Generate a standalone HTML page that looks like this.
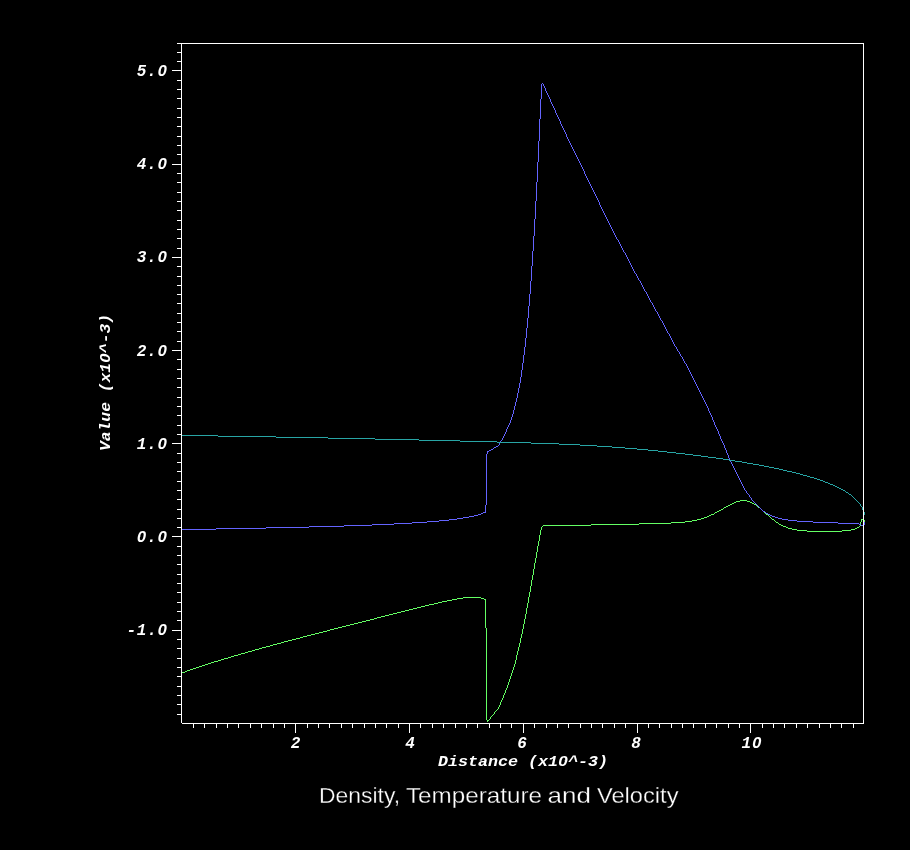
<!DOCTYPE html>
<html><head><meta charset="utf-8"><style>
html,body{margin:0;padding:0;background:#000;width:910px;height:850px;overflow:hidden}
svg{position:absolute;left:0;top:0;display:block;will-change:transform}
text{-webkit-font-smoothing:antialiased}
body{-webkit-font-smoothing:antialiased}
.m{font-family:"Liberation Mono",monospace;font-weight:bold;font-style:italic;font-size:16px;fill:#fff}
.t{font-family:"Liberation Sans",sans-serif;font-size:22px;fill:#fff;stroke:#000;stroke-width:0.3px}
</style></head><body>
<svg width="910" height="850" viewBox="0 0 910 850">
<rect width="910" height="850" fill="#000"/>
<g shape-rendering="crispEdges">
<path fill="#64ff64" d="M740 500h7v1h-7zM736 501h4v1h-4zM747 501h3v1h-3zM734 502h2v1h-2zM750 502h2v1h-2zM732 503h2v1h-2zM752 503h2v1h-2zM730 504h2v1h-2zM754 504h2v1h-2zM728 505h2v1h-2zM756 505h1v1h-1zM726 506h2v1h-2zM757 506h1v1h-1zM724 507h2v1h-2zM758 507h2v1h-2zM723 508h1v1h-1zM760 508h1v1h-1zM721 509h2v1h-2zM761 509h1v1h-1zM719 510h2v1h-2zM762 510h1v1h-1zM717 511h2v1h-2zM763 511h1v1h-1zM715 512h2v1h-2zM764 512h1v1h-1zM714 513h1v1h-1zM765 513h1v1h-1zM711 514h3v1h-3zM766 514h2v1h-2zM709 515h2v1h-2zM768 515h1v1h-1zM707 516h2v1h-2zM769 516h1v1h-1zM704 517h3v1h-3zM770 517h1v1h-1zM701 518h3v1h-3zM771 518h1v1h-1zM697 519h4v1h-4zM772 519h2v1h-2zM861 519h3v1h-3zM692 520h5v1h-5zM774 520h1v1h-1zM861 520h1v1h-1zM863 520h2v1h-2zM685 521h7v1h-7zM775 521h1v1h-1zM861 521h1v1h-1zM863 521h2v1h-2zM671 522h14v1h-14zM776 522h2v1h-2zM860 522h1v1h-1zM639 523h32v1h-32zM778 523h1v1h-1zM860 523h1v1h-1zM591 524h48v1h-48zM779 524h2v1h-2zM860 524h1v1h-1zM543 525h48v1h-48zM781 525h2v1h-2zM860 525h1v1h-1zM542 526h1v1h-1zM783 526h3v1h-3zM859 526h1v1h-1zM541 527h1v1h-1zM786 527h2v1h-2zM857 527h2v1h-2zM541 528h1v1h-1zM788 528h4v1h-4zM855 528h2v1h-2zM541 529h1v1h-1zM792 529h5v1h-5zM851 529h4v1h-4zM540 530h1v1h-1zM797 530h10v1h-10zM842 530h9v1h-9zM540 531h1v1h-1zM807 531h35v1h-35zM540 532h1v1h-1zM540 533h1v1h-1zM540 534h1v1h-1zM539 535h1v1h-1zM539 536h1v1h-1zM539 537h1v1h-1zM539 538h1v1h-1zM539 539h1v1h-1zM539 540h1v1h-1zM538 541h1v1h-1zM538 542h1v1h-1zM538 543h1v1h-1zM538 544h1v1h-1zM538 545h1v1h-1zM537 546h1v1h-1zM537 547h1v1h-1zM537 548h1v1h-1zM537 549h1v1h-1zM537 550h1v1h-1zM537 551h1v1h-1zM536 552h1v1h-1zM536 553h1v1h-1zM536 554h1v1h-1zM536 555h1v1h-1zM536 556h1v1h-1zM536 557h1v1h-1zM535 558h1v1h-1zM535 559h1v1h-1zM535 560h1v1h-1zM535 561h1v1h-1zM535 562h1v1h-1zM534 563h1v1h-1zM534 564h1v1h-1zM534 565h1v1h-1zM534 566h1v1h-1zM534 567h1v1h-1zM534 568h1v1h-1zM533 569h1v1h-1zM533 570h1v1h-1zM533 571h1v1h-1zM533 572h1v1h-1zM533 573h1v1h-1zM533 574h1v1h-1zM532 575h1v1h-1zM532 576h1v1h-1zM532 577h1v1h-1zM532 578h1v1h-1zM532 579h1v1h-1zM531 580h1v1h-1zM531 581h1v1h-1zM531 582h1v1h-1zM531 583h1v1h-1zM531 584h1v1h-1zM531 585h1v1h-1zM530 586h1v1h-1zM530 587h1v1h-1zM530 588h1v1h-1zM530 589h1v1h-1zM530 590h1v1h-1zM530 591h1v1h-1zM529 592h1v1h-1zM529 593h1v1h-1zM529 594h1v1h-1zM529 595h1v1h-1zM529 596h1v1h-1zM463 597h18v1h-18zM528 597h1v1h-1zM457 598h6v1h-6zM481 598h3v1h-3zM528 598h1v1h-1zM452 599h5v1h-5zM484 599h2v1h-2zM528 599h1v1h-1zM447 600h5v1h-5zM485 600h1v1h-1zM528 600h1v1h-1zM442 601h5v1h-5zM485 601h1v1h-1zM528 601h1v1h-1zM438 602h4v1h-4zM485 602h1v1h-1zM528 602h1v1h-1zM434 603h4v1h-4zM485 603h1v1h-1zM527 603h1v1h-1zM429 604h5v1h-5zM485 604h1v1h-1zM527 604h1v1h-1zM425 605h4v1h-4zM485 605h1v1h-1zM527 605h1v1h-1zM421 606h4v1h-4zM485 606h1v1h-1zM527 606h1v1h-1zM417 607h4v1h-4zM485 607h1v1h-1zM527 607h1v1h-1zM413 608h4v1h-4zM485 608h1v1h-1zM526 608h1v1h-1zM409 609h4v1h-4zM485 609h1v1h-1zM526 609h1v1h-1zM405 610h4v1h-4zM485 610h1v1h-1zM526 610h1v1h-1zM401 611h4v1h-4zM485 611h1v1h-1zM526 611h1v1h-1zM397 612h4v1h-4zM485 612h1v1h-1zM526 612h1v1h-1zM393 613h4v1h-4zM485 613h1v1h-1zM526 613h1v1h-1zM389 614h4v1h-4zM485 614h1v1h-1zM525 614h1v1h-1zM385 615h4v1h-4zM485 615h1v1h-1zM525 615h1v1h-1zM381 616h4v1h-4zM485 616h1v1h-1zM525 616h1v1h-1zM377 617h4v1h-4zM485 617h1v1h-1zM525 617h1v1h-1zM374 618h3v1h-3zM485 618h1v1h-1zM525 618h1v1h-1zM370 619h4v1h-4zM485 619h1v1h-1zM524 619h1v1h-1zM366 620h4v1h-4zM485 620h1v1h-1zM524 620h1v1h-1zM362 621h4v1h-4zM485 621h1v1h-1zM524 621h1v1h-1zM358 622h4v1h-4zM485 622h1v1h-1zM524 622h1v1h-1zM354 623h4v1h-4zM485 623h1v1h-1zM524 623h1v1h-1zM350 624h4v1h-4zM485 624h1v1h-1zM523 624h1v1h-1zM346 625h4v1h-4zM485 625h1v1h-1zM523 625h1v1h-1zM342 626h4v1h-4zM485 626h1v1h-1zM523 626h1v1h-1zM338 627h4v1h-4zM485 627h1v1h-1zM523 627h1v1h-1zM334 628h4v1h-4zM486 628h1v1h-1zM523 628h1v1h-1zM330 629h4v1h-4zM486 629h1v1h-1zM522 629h1v1h-1zM327 630h3v1h-3zM486 630h1v1h-1zM522 630h1v1h-1zM323 631h4v1h-4zM486 631h1v1h-1zM522 631h1v1h-1zM319 632h4v1h-4zM486 632h1v1h-1zM522 632h1v1h-1zM315 633h4v1h-4zM486 633h1v1h-1zM522 633h1v1h-1zM311 634h4v1h-4zM486 634h1v1h-1zM521 634h1v1h-1zM307 635h4v1h-4zM486 635h1v1h-1zM521 635h1v1h-1zM303 636h4v1h-4zM486 636h1v1h-1zM521 636h1v1h-1zM300 637h3v1h-3zM486 637h1v1h-1zM521 637h1v1h-1zM296 638h4v1h-4zM486 638h1v1h-1zM520 638h1v1h-1zM292 639h4v1h-4zM486 639h1v1h-1zM520 639h1v1h-1zM288 640h4v1h-4zM486 640h1v1h-1zM520 640h1v1h-1zM284 641h4v1h-4zM486 641h1v1h-1zM520 641h1v1h-1zM281 642h3v1h-3zM486 642h1v1h-1zM520 642h1v1h-1zM277 643h4v1h-4zM486 643h1v1h-1zM519 643h1v1h-1zM273 644h4v1h-4zM486 644h1v1h-1zM519 644h1v1h-1zM270 645h3v1h-3zM486 645h1v1h-1zM519 645h1v1h-1zM266 646h4v1h-4zM486 646h1v1h-1zM519 646h1v1h-1zM262 647h4v1h-4zM486 647h1v1h-1zM518 647h1v1h-1zM259 648h3v1h-3zM486 648h1v1h-1zM518 648h1v1h-1zM255 649h4v1h-4zM486 649h1v1h-1zM518 649h1v1h-1zM252 650h3v1h-3zM486 650h1v1h-1zM518 650h1v1h-1zM248 651h4v1h-4zM486 651h1v1h-1zM517 651h1v1h-1zM245 652h3v1h-3zM486 652h1v1h-1zM517 652h1v1h-1zM241 653h4v1h-4zM486 653h1v1h-1zM517 653h1v1h-1zM238 654h3v1h-3zM486 654h1v1h-1zM517 654h1v1h-1zM234 655h4v1h-4zM486 655h1v1h-1zM516 655h1v1h-1zM231 656h3v1h-3zM486 656h1v1h-1zM516 656h1v1h-1zM228 657h3v1h-3zM486 657h1v1h-1zM516 657h1v1h-1zM224 658h4v1h-4zM486 658h1v1h-1zM516 658h1v1h-1zM221 659h3v1h-3zM486 659h1v1h-1zM516 659h1v1h-1zM218 660h3v1h-3zM486 660h1v1h-1zM515 660h1v1h-1zM214 661h4v1h-4zM486 661h1v1h-1zM515 661h1v1h-1zM211 662h3v1h-3zM486 662h1v1h-1zM515 662h1v1h-1zM208 663h3v1h-3zM486 663h1v1h-1zM515 663h1v1h-1zM205 664h3v1h-3zM486 664h1v1h-1zM514 664h1v1h-1zM202 665h3v1h-3zM486 665h1v1h-1zM514 665h1v1h-1zM199 666h3v1h-3zM486 666h1v1h-1zM514 666h1v1h-1zM196 667h3v1h-3zM486 667h1v1h-1zM513 667h1v1h-1zM193 668h3v1h-3zM486 668h1v1h-1zM513 668h1v1h-1zM190 669h3v1h-3zM486 669h1v1h-1zM513 669h1v1h-1zM187 670h3v1h-3zM486 670h1v1h-1zM512 670h1v1h-1zM185 671h2v1h-2zM486 671h1v1h-1zM512 671h1v1h-1zM182 672h3v1h-3zM486 672h1v1h-1zM512 672h1v1h-1zM486 673h1v1h-1zM511 673h1v1h-1zM486 674h1v1h-1zM511 674h1v1h-1zM486 675h1v1h-1zM511 675h1v1h-1zM486 676h1v1h-1zM510 676h1v1h-1zM486 677h1v1h-1zM510 677h1v1h-1zM486 678h1v1h-1zM510 678h1v1h-1zM486 679h1v1h-1zM509 679h1v1h-1zM486 680h1v1h-1zM509 680h1v1h-1zM486 681h1v1h-1zM509 681h1v1h-1zM486 682h1v1h-1zM508 682h1v1h-1zM486 683h1v1h-1zM508 683h1v1h-1zM486 684h1v1h-1zM508 684h1v1h-1zM486 685h1v1h-1zM507 685h1v1h-1zM486 686h1v1h-1zM507 686h1v1h-1zM486 687h1v1h-1zM507 687h1v1h-1zM486 688h1v1h-1zM506 688h1v1h-1zM486 689h1v1h-1zM506 689h1v1h-1zM486 690h1v1h-1zM505 690h1v1h-1zM486 691h1v1h-1zM505 691h1v1h-1zM486 692h1v1h-1zM505 692h1v1h-1zM486 693h1v1h-1zM504 693h1v1h-1zM486 694h1v1h-1zM504 694h1v1h-1zM486 695h1v1h-1zM503 695h1v1h-1zM486 696h1v1h-1zM503 696h1v1h-1zM486 697h1v1h-1zM503 697h1v1h-1zM486 698h1v1h-1zM502 698h1v1h-1zM486 699h1v1h-1zM502 699h1v1h-1zM486 700h1v1h-1zM501 700h1v1h-1zM486 701h1v1h-1zM501 701h1v1h-1zM486 702h1v1h-1zM500 702h1v1h-1zM486 703h1v1h-1zM500 703h1v1h-1zM486 704h1v1h-1zM500 704h1v1h-1zM486 705h1v1h-1zM499 705h1v1h-1zM486 706h1v1h-1zM499 706h1v1h-1zM486 707h1v1h-1zM498 707h1v1h-1zM486 708h1v1h-1zM498 708h1v1h-1zM486 709h1v1h-1zM497 709h1v1h-1zM486 710h1v1h-1zM496 710h1v1h-1zM486 711h1v1h-1zM495 711h1v1h-1zM486 712h1v1h-1zM494 712h1v1h-1zM486 713h1v1h-1zM494 713h1v1h-1zM486 714h1v1h-1zM493 714h1v1h-1zM486 715h1v1h-1zM492 715h1v1h-1zM486 716h1v1h-1zM491 716h1v1h-1zM486 717h1v1h-1zM490 717h1v1h-1zM486 718h1v1h-1zM490 718h1v1h-1zM486 719h1v1h-1zM489 719h1v1h-1zM487 720h2v1h-2zM487 721h1v1h-1z"/>
<path fill="#6464ff" d="M542 83h1v1h-1zM541 84h1v1h-1zM543 84h1v1h-1zM541 85h1v1h-1zM543 85h1v1h-1zM541 86h1v1h-1zM544 86h1v1h-1zM541 87h1v1h-1zM544 87h1v1h-1zM541 88h1v1h-1zM545 88h1v1h-1zM541 89h1v1h-1zM545 89h1v1h-1zM541 90h1v1h-1zM545 90h1v1h-1zM541 91h1v1h-1zM546 91h1v1h-1zM541 92h1v1h-1zM546 92h1v1h-1zM541 93h1v1h-1zM547 93h1v1h-1zM541 94h1v1h-1zM547 94h1v1h-1zM541 95h1v1h-1zM548 95h1v1h-1zM541 96h1v1h-1zM548 96h1v1h-1zM541 97h1v1h-1zM549 97h1v1h-1zM541 98h1v1h-1zM549 98h1v1h-1zM540 99h1v1h-1zM550 99h1v1h-1zM540 100h1v1h-1zM550 100h1v1h-1zM540 101h1v1h-1zM550 101h1v1h-1zM540 102h1v1h-1zM551 102h1v1h-1zM540 103h1v1h-1zM551 103h1v1h-1zM540 104h1v1h-1zM552 104h1v1h-1zM540 105h1v1h-1zM552 105h1v1h-1zM540 106h1v1h-1zM553 106h1v1h-1zM540 107h1v1h-1zM553 107h1v1h-1zM540 108h1v1h-1zM554 108h1v1h-1zM540 109h1v1h-1zM554 109h1v1h-1zM540 110h1v1h-1zM555 110h1v1h-1zM540 111h1v1h-1zM555 111h1v1h-1zM540 112h1v1h-1zM555 112h1v1h-1zM540 113h1v1h-1zM556 113h1v1h-1zM540 114h1v1h-1zM556 114h1v1h-1zM540 115h1v1h-1zM557 115h1v1h-1zM540 116h1v1h-1zM557 116h1v1h-1zM540 117h1v1h-1zM558 117h1v1h-1zM540 118h1v1h-1zM558 118h1v1h-1zM539 119h1v1h-1zM559 119h1v1h-1zM539 120h1v1h-1zM559 120h1v1h-1zM539 121h1v1h-1zM560 121h1v1h-1zM539 122h1v1h-1zM560 122h1v1h-1zM539 123h1v1h-1zM560 123h1v1h-1zM539 124h1v1h-1zM561 124h1v1h-1zM539 125h1v1h-1zM561 125h1v1h-1zM539 126h1v1h-1zM562 126h1v1h-1zM539 127h1v1h-1zM562 127h1v1h-1zM539 128h1v1h-1zM563 128h1v1h-1zM539 129h1v1h-1zM563 129h1v1h-1zM539 130h1v1h-1zM564 130h1v1h-1zM539 131h1v1h-1zM564 131h1v1h-1zM539 132h1v1h-1zM565 132h1v1h-1zM539 133h1v1h-1zM565 133h1v1h-1zM539 134h1v1h-1zM566 134h1v1h-1zM539 135h1v1h-1zM566 135h1v1h-1zM539 136h1v1h-1zM566 136h1v1h-1zM539 137h1v1h-1zM567 137h1v1h-1zM539 138h1v1h-1zM567 138h1v1h-1zM539 139h1v1h-1zM568 139h1v1h-1zM539 140h1v1h-1zM568 140h1v1h-1zM538 141h1v1h-1zM569 141h1v1h-1zM538 142h1v1h-1zM569 142h1v1h-1zM538 143h1v1h-1zM570 143h1v1h-1zM538 144h1v1h-1zM570 144h1v1h-1zM538 145h1v1h-1zM571 145h1v1h-1zM538 146h1v1h-1zM571 146h1v1h-1zM538 147h1v1h-1zM572 147h1v1h-1zM538 148h1v1h-1zM572 148h1v1h-1zM538 149h1v1h-1zM573 149h1v1h-1zM538 150h1v1h-1zM573 150h1v1h-1zM538 151h1v1h-1zM574 151h1v1h-1zM538 152h1v1h-1zM574 152h1v1h-1zM538 153h1v1h-1zM575 153h1v1h-1zM538 154h1v1h-1zM575 154h1v1h-1zM538 155h1v1h-1zM576 155h1v1h-1zM538 156h1v1h-1zM576 156h1v1h-1zM538 157h1v1h-1zM577 157h1v1h-1zM538 158h1v1h-1zM577 158h1v1h-1zM538 159h1v1h-1zM578 159h1v1h-1zM538 160h1v1h-1zM578 160h1v1h-1zM538 161h1v1h-1zM579 161h1v1h-1zM537 162h1v1h-1zM579 162h1v1h-1zM537 163h1v1h-1zM580 163h1v1h-1zM537 164h1v1h-1zM580 164h1v1h-1zM537 165h1v1h-1zM581 165h1v1h-1zM537 166h1v1h-1zM581 166h1v1h-1zM537 167h1v1h-1zM582 167h1v1h-1zM537 168h1v1h-1zM582 168h1v1h-1zM537 169h1v1h-1zM583 169h1v1h-1zM537 170h1v1h-1zM583 170h1v1h-1zM537 171h1v1h-1zM584 171h1v1h-1zM537 172h1v1h-1zM584 172h1v1h-1zM537 173h1v1h-1zM584 173h1v1h-1zM537 174h1v1h-1zM585 174h1v1h-1zM537 175h1v1h-1zM585 175h1v1h-1zM537 176h1v1h-1zM586 176h1v1h-1zM537 177h1v1h-1zM586 177h1v1h-1zM537 178h1v1h-1zM587 178h1v1h-1zM537 179h1v1h-1zM587 179h1v1h-1zM537 180h1v1h-1zM588 180h1v1h-1zM537 181h1v1h-1zM588 181h1v1h-1zM536 182h1v1h-1zM589 182h1v1h-1zM536 183h1v1h-1zM589 183h1v1h-1zM536 184h1v1h-1zM590 184h1v1h-1zM536 185h1v1h-1zM590 185h1v1h-1zM536 186h1v1h-1zM591 186h1v1h-1zM536 187h1v1h-1zM591 187h1v1h-1zM536 188h1v1h-1zM592 188h1v1h-1zM536 189h1v1h-1zM592 189h1v1h-1zM536 190h1v1h-1zM593 190h1v1h-1zM536 191h1v1h-1zM593 191h1v1h-1zM536 192h1v1h-1zM594 192h1v1h-1zM536 193h1v1h-1zM594 193h1v1h-1zM536 194h1v1h-1zM595 194h1v1h-1zM536 195h1v1h-1zM595 195h1v1h-1zM536 196h1v1h-1zM596 196h1v1h-1zM536 197h1v1h-1zM596 197h1v1h-1zM536 198h1v1h-1zM597 198h1v1h-1zM536 199h1v1h-1zM597 199h1v1h-1zM536 200h1v1h-1zM598 200h1v1h-1zM535 201h1v1h-1zM598 201h1v1h-1zM535 202h1v1h-1zM599 202h1v1h-1zM535 203h1v1h-1zM599 203h1v1h-1zM535 204h1v1h-1zM599 204h1v1h-1zM535 205h1v1h-1zM600 205h1v1h-1zM535 206h1v1h-1zM600 206h1v1h-1zM535 207h1v1h-1zM601 207h1v1h-1zM535 208h1v1h-1zM601 208h1v1h-1zM535 209h1v1h-1zM602 209h1v1h-1zM535 210h1v1h-1zM602 210h1v1h-1zM535 211h1v1h-1zM603 211h1v1h-1zM535 212h1v1h-1zM603 212h1v1h-1zM535 213h1v1h-1zM604 213h1v1h-1zM535 214h1v1h-1zM604 214h1v1h-1zM535 215h1v1h-1zM605 215h1v1h-1zM535 216h1v1h-1zM605 216h1v1h-1zM535 217h1v1h-1zM606 217h1v1h-1zM535 218h1v1h-1zM606 218h1v1h-1zM534 219h1v1h-1zM607 219h1v1h-1zM534 220h1v1h-1zM607 220h1v1h-1zM534 221h1v1h-1zM608 221h1v1h-1zM534 222h1v1h-1zM608 222h1v1h-1zM534 223h1v1h-1zM609 223h1v1h-1zM534 224h1v1h-1zM609 224h1v1h-1zM534 225h1v1h-1zM610 225h1v1h-1zM534 226h1v1h-1zM610 226h1v1h-1zM534 227h1v1h-1zM611 227h1v1h-1zM534 228h1v1h-1zM611 228h1v1h-1zM534 229h1v1h-1zM612 229h1v1h-1zM534 230h1v1h-1zM612 230h1v1h-1zM534 231h1v1h-1zM613 231h1v1h-1zM534 232h1v1h-1zM613 232h1v1h-1zM534 233h1v1h-1zM614 233h1v1h-1zM534 234h1v1h-1zM614 234h1v1h-1zM534 235h1v1h-1zM615 235h1v1h-1zM533 236h1v1h-1zM615 236h1v1h-1zM533 237h1v1h-1zM616 237h1v1h-1zM533 238h1v1h-1zM616 238h1v1h-1zM533 239h1v1h-1zM617 239h1v1h-1zM533 240h1v1h-1zM618 240h1v1h-1zM533 241h1v1h-1zM618 241h1v1h-1zM533 242h1v1h-1zM619 242h1v1h-1zM533 243h1v1h-1zM619 243h1v1h-1zM533 244h1v1h-1zM620 244h1v1h-1zM533 245h1v1h-1zM620 245h1v1h-1zM533 246h1v1h-1zM621 246h1v1h-1zM533 247h1v1h-1zM621 247h1v1h-1zM533 248h1v1h-1zM622 248h1v1h-1zM533 249h1v1h-1zM622 249h1v1h-1zM533 250h1v1h-1zM623 250h1v1h-1zM532 251h1v1h-1zM623 251h1v1h-1zM532 252h1v1h-1zM624 252h1v1h-1zM532 253h1v1h-1zM625 253h1v1h-1zM532 254h1v1h-1zM625 254h1v1h-1zM532 255h1v1h-1zM626 255h1v1h-1zM532 256h1v1h-1zM626 256h1v1h-1zM532 257h1v1h-1zM627 257h1v1h-1zM532 258h1v1h-1zM627 258h1v1h-1zM532 259h1v1h-1zM628 259h1v1h-1zM532 260h1v1h-1zM628 260h1v1h-1zM532 261h1v1h-1zM629 261h1v1h-1zM532 262h1v1h-1zM629 262h1v1h-1zM532 263h1v1h-1zM630 263h1v1h-1zM532 264h1v1h-1zM630 264h1v1h-1zM532 265h1v1h-1zM631 265h1v1h-1zM531 266h1v1h-1zM631 266h1v1h-1zM531 267h1v1h-1zM632 267h1v1h-1zM531 268h1v1h-1zM632 268h1v1h-1zM531 269h1v1h-1zM633 269h1v1h-1zM531 270h1v1h-1zM633 270h1v1h-1zM531 271h1v1h-1zM634 271h1v1h-1zM531 272h1v1h-1zM634 272h1v1h-1zM531 273h1v1h-1zM635 273h1v1h-1zM531 274h1v1h-1zM636 274h1v1h-1zM531 275h1v1h-1zM636 275h1v1h-1zM531 276h1v1h-1zM637 276h1v1h-1zM531 277h1v1h-1zM637 277h1v1h-1zM531 278h1v1h-1zM638 278h1v1h-1zM531 279h1v1h-1zM638 279h1v1h-1zM531 280h1v1h-1zM639 280h1v1h-1zM530 281h1v1h-1zM640 281h1v1h-1zM530 282h1v1h-1zM640 282h1v1h-1zM530 283h1v1h-1zM641 283h1v1h-1zM530 284h1v1h-1zM641 284h1v1h-1zM530 285h1v1h-1zM642 285h1v1h-1zM530 286h1v1h-1zM642 286h1v1h-1zM530 287h1v1h-1zM643 287h1v1h-1zM530 288h1v1h-1zM643 288h1v1h-1zM530 289h1v1h-1zM644 289h1v1h-1zM530 290h1v1h-1zM644 290h1v1h-1zM530 291h1v1h-1zM645 291h1v1h-1zM530 292h1v1h-1zM646 292h1v1h-1zM530 293h1v1h-1zM646 293h1v1h-1zM529 294h1v1h-1zM647 294h1v1h-1zM529 295h1v1h-1zM647 295h1v1h-1zM529 296h1v1h-1zM648 296h1v1h-1zM529 297h1v1h-1zM648 297h1v1h-1zM529 298h1v1h-1zM649 298h1v1h-1zM529 299h1v1h-1zM649 299h1v1h-1zM529 300h1v1h-1zM650 300h1v1h-1zM529 301h1v1h-1zM650 301h1v1h-1zM529 302h1v1h-1zM651 302h1v1h-1zM529 303h1v1h-1zM652 303h1v1h-1zM529 304h1v1h-1zM652 304h1v1h-1zM529 305h1v1h-1zM653 305h1v1h-1zM528 306h1v1h-1zM653 306h1v1h-1zM528 307h1v1h-1zM654 307h1v1h-1zM528 308h1v1h-1zM654 308h1v1h-1zM528 309h1v1h-1zM655 309h1v1h-1zM528 310h1v1h-1zM655 310h1v1h-1zM528 311h1v1h-1zM656 311h1v1h-1zM528 312h1v1h-1zM657 312h1v1h-1zM528 313h1v1h-1zM657 313h1v1h-1zM528 314h1v1h-1zM658 314h1v1h-1zM528 315h1v1h-1zM658 315h1v1h-1zM528 316h1v1h-1zM659 316h1v1h-1zM528 317h1v1h-1zM659 317h1v1h-1zM527 318h1v1h-1zM660 318h1v1h-1zM527 319h1v1h-1zM660 319h1v1h-1zM527 320h1v1h-1zM661 320h1v1h-1zM527 321h1v1h-1zM662 321h1v1h-1zM527 322h1v1h-1zM662 322h1v1h-1zM527 323h1v1h-1zM663 323h1v1h-1zM527 324h1v1h-1zM663 324h1v1h-1zM527 325h1v1h-1zM664 325h1v1h-1zM527 326h1v1h-1zM664 326h1v1h-1zM527 327h1v1h-1zM665 327h1v1h-1zM526 328h1v1h-1zM665 328h1v1h-1zM526 329h1v1h-1zM666 329h1v1h-1zM526 330h1v1h-1zM666 330h1v1h-1zM526 331h1v1h-1zM667 331h1v1h-1zM526 332h1v1h-1zM667 332h1v1h-1zM526 333h1v1h-1zM668 333h1v1h-1zM526 334h1v1h-1zM669 334h1v1h-1zM526 335h1v1h-1zM669 335h1v1h-1zM526 336h1v1h-1zM670 336h1v1h-1zM526 337h1v1h-1zM670 337h1v1h-1zM525 338h1v1h-1zM671 338h1v1h-1zM525 339h1v1h-1zM671 339h1v1h-1zM525 340h1v1h-1zM672 340h1v1h-1zM525 341h1v1h-1zM672 341h1v1h-1zM525 342h1v1h-1zM673 342h1v1h-1zM525 343h1v1h-1zM673 343h1v1h-1zM525 344h1v1h-1zM674 344h1v1h-1zM525 345h1v1h-1zM674 345h1v1h-1zM525 346h1v1h-1zM675 346h1v1h-1zM524 347h1v1h-1zM676 347h1v1h-1zM524 348h1v1h-1zM676 348h1v1h-1zM524 349h1v1h-1zM677 349h1v1h-1zM524 350h1v1h-1zM677 350h1v1h-1zM524 351h1v1h-1zM678 351h1v1h-1zM524 352h1v1h-1zM679 352h1v1h-1zM524 353h1v1h-1zM679 353h1v1h-1zM524 354h1v1h-1zM680 354h1v1h-1zM523 355h1v1h-1zM680 355h1v1h-1zM523 356h1v1h-1zM681 356h1v1h-1zM523 357h1v1h-1zM682 357h1v1h-1zM523 358h1v1h-1zM682 358h1v1h-1zM523 359h1v1h-1zM683 359h1v1h-1zM523 360h1v1h-1zM683 360h1v1h-1zM523 361h1v1h-1zM684 361h1v1h-1zM523 362h1v1h-1zM684 362h1v1h-1zM522 363h1v1h-1zM685 363h1v1h-1zM522 364h1v1h-1zM686 364h1v1h-1zM522 365h1v1h-1zM686 365h1v1h-1zM522 366h1v1h-1zM687 366h1v1h-1zM522 367h1v1h-1zM687 367h1v1h-1zM522 368h1v1h-1zM688 368h1v1h-1zM522 369h1v1h-1zM688 369h1v1h-1zM521 370h1v1h-1zM689 370h1v1h-1zM521 371h1v1h-1zM689 371h1v1h-1zM521 372h1v1h-1zM690 372h1v1h-1zM521 373h1v1h-1zM690 373h1v1h-1zM521 374h1v1h-1zM691 374h1v1h-1zM521 375h1v1h-1zM691 375h1v1h-1zM521 376h1v1h-1zM692 376h1v1h-1zM520 377h1v1h-1zM692 377h1v1h-1zM520 378h1v1h-1zM693 378h1v1h-1zM520 379h1v1h-1zM693 379h1v1h-1zM520 380h1v1h-1zM694 380h1v1h-1zM520 381h1v1h-1zM694 381h1v1h-1zM520 382h1v1h-1zM695 382h1v1h-1zM519 383h1v1h-1zM695 383h1v1h-1zM519 384h1v1h-1zM696 384h1v1h-1zM519 385h1v1h-1zM696 385h1v1h-1zM519 386h1v1h-1zM697 386h1v1h-1zM519 387h1v1h-1zM697 387h1v1h-1zM518 388h1v1h-1zM698 388h1v1h-1zM518 389h1v1h-1zM698 389h1v1h-1zM518 390h1v1h-1zM699 390h1v1h-1zM518 391h1v1h-1zM699 391h1v1h-1zM518 392h1v1h-1zM700 392h1v1h-1zM517 393h1v1h-1zM700 393h1v1h-1zM517 394h1v1h-1zM701 394h1v1h-1zM517 395h1v1h-1zM701 395h1v1h-1zM517 396h1v1h-1zM702 396h1v1h-1zM517 397h1v1h-1zM702 397h1v1h-1zM516 398h1v1h-1zM703 398h1v1h-1zM516 399h1v1h-1zM703 399h1v1h-1zM516 400h1v1h-1zM704 400h1v1h-1zM516 401h1v1h-1zM704 401h1v1h-1zM515 402h1v1h-1zM705 402h1v1h-1zM515 403h1v1h-1zM705 403h1v1h-1zM515 404h1v1h-1zM706 404h1v1h-1zM515 405h1v1h-1zM706 405h1v1h-1zM514 406h1v1h-1zM707 406h1v1h-1zM514 407h1v1h-1zM707 407h1v1h-1zM514 408h1v1h-1zM708 408h1v1h-1zM514 409h1v1h-1zM708 409h1v1h-1zM513 410h1v1h-1zM708 410h1v1h-1zM513 411h1v1h-1zM709 411h1v1h-1zM513 412h1v1h-1zM709 412h1v1h-1zM513 413h1v1h-1zM710 413h1v1h-1zM512 414h1v1h-1zM710 414h1v1h-1zM512 415h1v1h-1zM711 415h1v1h-1zM512 416h1v1h-1zM711 416h1v1h-1zM511 417h1v1h-1zM712 417h1v1h-1zM511 418h1v1h-1zM712 418h1v1h-1zM511 419h1v1h-1zM712 419h1v1h-1zM510 420h1v1h-1zM713 420h1v1h-1zM510 421h1v1h-1zM713 421h1v1h-1zM510 422h1v1h-1zM714 422h1v1h-1zM509 423h1v1h-1zM714 423h1v1h-1zM509 424h1v1h-1zM714 424h1v1h-1zM508 425h1v1h-1zM715 425h1v1h-1zM508 426h1v1h-1zM715 426h1v1h-1zM507 427h1v1h-1zM716 427h1v1h-1zM507 428h1v1h-1zM716 428h1v1h-1zM506 429h1v1h-1zM717 429h1v1h-1zM506 430h1v1h-1zM717 430h1v1h-1zM506 431h1v1h-1zM718 431h1v1h-1zM505 432h1v1h-1zM718 432h1v1h-1zM505 433h1v1h-1zM718 433h1v1h-1zM504 434h1v1h-1zM719 434h1v1h-1zM504 435h1v1h-1zM719 435h1v1h-1zM503 436h1v1h-1zM720 436h1v1h-1zM503 437h1v1h-1zM720 437h1v1h-1zM502 438h1v1h-1zM720 438h1v1h-1zM502 439h1v1h-1zM721 439h1v1h-1zM501 440h1v1h-1zM721 440h1v1h-1zM500 441h1v1h-1zM722 441h1v1h-1zM500 442h1v1h-1zM722 442h1v1h-1zM499 443h1v1h-1zM723 443h1v1h-1zM499 444h1v1h-1zM723 444h1v1h-1zM498 445h1v1h-1zM724 445h1v1h-1zM496 446h2v1h-2zM724 446h1v1h-1zM494 447h2v1h-2zM724 447h1v1h-1zM493 448h1v1h-1zM725 448h1v1h-1zM491 449h2v1h-2zM725 449h1v1h-1zM489 450h2v1h-2zM726 450h1v1h-1zM487 451h2v1h-2zM726 451h1v1h-1zM487 452h1v1h-1zM726 452h1v1h-1zM487 453h1v1h-1zM727 453h1v1h-1zM486 454h1v1h-1zM727 454h1v1h-1zM486 455h1v1h-1zM728 455h1v1h-1zM486 456h1v1h-1zM728 456h1v1h-1zM486 457h1v1h-1zM728 457h1v1h-1zM486 458h1v1h-1zM729 458h1v1h-1zM486 459h1v1h-1zM729 459h1v1h-1zM486 460h1v1h-1zM730 460h1v1h-1zM486 461h1v1h-1zM730 461h1v1h-1zM486 462h1v1h-1zM731 462h1v1h-1zM486 463h1v1h-1zM731 463h1v1h-1zM486 464h1v1h-1zM732 464h1v1h-1zM486 465h1v1h-1zM732 465h1v1h-1zM486 466h1v1h-1zM733 466h1v1h-1zM486 467h1v1h-1zM733 467h1v1h-1zM486 468h1v1h-1zM734 468h1v1h-1zM486 469h1v1h-1zM734 469h1v1h-1zM486 470h1v1h-1zM735 470h1v1h-1zM486 471h1v1h-1zM735 471h1v1h-1zM486 472h1v1h-1zM736 472h1v1h-1zM486 473h1v1h-1zM736 473h1v1h-1zM486 474h1v1h-1zM737 474h1v1h-1zM486 475h1v1h-1zM737 475h1v1h-1zM486 476h1v1h-1zM738 476h1v1h-1zM486 477h1v1h-1zM738 477h1v1h-1zM486 478h1v1h-1zM739 478h1v1h-1zM486 479h1v1h-1zM739 479h1v1h-1zM486 480h1v1h-1zM740 480h1v1h-1zM486 481h1v1h-1zM740 481h1v1h-1zM486 482h1v1h-1zM741 482h1v1h-1zM486 483h1v1h-1zM741 483h1v1h-1zM486 484h1v1h-1zM742 484h1v1h-1zM486 485h1v1h-1zM742 485h1v1h-1zM486 486h1v1h-1zM743 486h1v1h-1zM486 487h1v1h-1zM743 487h1v1h-1zM486 488h1v1h-1zM744 488h1v1h-1zM486 489h1v1h-1zM744 489h1v1h-1zM486 490h1v1h-1zM745 490h1v1h-1zM486 491h1v1h-1zM746 491h1v1h-1zM486 492h1v1h-1zM746 492h1v1h-1zM486 493h1v1h-1zM747 493h1v1h-1zM486 494h1v1h-1zM748 494h1v1h-1zM486 495h1v1h-1zM749 495h1v1h-1zM486 496h1v1h-1zM749 496h1v1h-1zM486 497h1v1h-1zM750 497h1v1h-1zM486 498h1v1h-1zM751 498h1v1h-1zM486 499h1v1h-1zM751 499h1v1h-1zM486 500h1v1h-1zM752 500h1v1h-1zM486 501h1v1h-1zM753 501h1v1h-1zM486 502h1v1h-1zM754 502h1v1h-1zM486 503h1v1h-1zM755 503h1v1h-1zM486 504h1v1h-1zM756 504h1v1h-1zM485 505h1v1h-1zM757 505h1v1h-1zM485 506h1v1h-1zM758 506h1v1h-1zM485 507h1v1h-1zM759 507h1v1h-1zM485 508h1v1h-1zM760 508h1v1h-1zM485 509h1v1h-1zM761 509h1v1h-1zM485 510h1v1h-1zM762 510h1v1h-1zM485 511h1v1h-1zM763 511h2v1h-2zM483 512h3v1h-3zM765 512h1v1h-1zM481 513h2v1h-2zM766 513h2v1h-2zM478 514h3v1h-3zM768 514h2v1h-2zM474 515h4v1h-4zM770 515h2v1h-2zM469 516h5v1h-5zM772 516h3v1h-3zM463 517h6v1h-6zM775 517h3v1h-3zM457 518h6v1h-6zM778 518h4v1h-4zM449 519h8v1h-8zM782 519h6v1h-6zM439 520h10v1h-10zM788 520h9v1h-9zM427 521h12v1h-12zM797 521h16v1h-16zM412 522h15v1h-15zM813 522h25v1h-25zM863 522h2v1h-2zM394 523h18v1h-18zM838 523h21v1h-21zM863 523h2v1h-2zM372 524h22v1h-22zM859 524h2v1h-2zM863 524h2v1h-2zM344 525h28v1h-28zM861 525h3v1h-3zM309 526h35v1h-35zM266 527h43v1h-43zM216 528h50v1h-50zM182 529h34v1h-34z"/>
<path fill="#28a5a5" d="M182 435h36v1h-36zM218 436h58v1h-58zM276 437h52v1h-52zM328 438h47v1h-47zM375 439h44v1h-44zM419 440h41v1h-41zM460 441h37v1h-37zM497 442h34v1h-34zM531 443h28v1h-28zM559 444h21v1h-21zM580 445h17v1h-17zM597 446h15v1h-15zM612 447h13v1h-13zM625 448h12v1h-12zM637 449h11v1h-11zM648 450h10v1h-10zM658 451h9v1h-9zM667 452h9v1h-9zM676 453h9v1h-9zM685 454h8v1h-8zM693 455h8v1h-8zM701 456h7v1h-7zM708 457h8v1h-8zM716 458h7v1h-7zM723 459h6v1h-6zM729 460h6v1h-6zM735 461h7v1h-7zM742 462h5v1h-5zM747 463h6v1h-6zM753 464h6v1h-6zM759 465h5v1h-5zM764 466h5v1h-5zM769 467h5v1h-5zM774 468h5v1h-5zM779 469h4v1h-4zM783 470h4v1h-4zM787 471h5v1h-5zM792 472h4v1h-4zM796 473h4v1h-4zM800 474h3v1h-3zM803 475h4v1h-4zM807 476h3v1h-3zM810 477h4v1h-4zM814 478h3v1h-3zM817 479h3v1h-3zM820 480h3v1h-3zM823 481h2v1h-2zM825 482h3v1h-3zM828 483h2v1h-2zM830 484h3v1h-3zM833 485h2v1h-2zM835 486h2v1h-2zM837 487h2v1h-2zM839 488h2v1h-2zM841 489h2v1h-2zM843 490h2v1h-2zM845 491h1v1h-1zM846 492h2v1h-2zM848 493h1v1h-1zM849 494h2v1h-2zM851 495h1v1h-1zM852 496h1v1h-1zM853 497h1v1h-1zM854 498h1v1h-1zM855 499h1v1h-1zM856 500h1v1h-1zM857 501h1v1h-1zM858 502h1v1h-1zM859 503h1v1h-1zM860 504h1v1h-1zM860 505h1v1h-1zM861 506h1v1h-1zM862 507h1v1h-1zM862 508h1v1h-1zM862 509h1v1h-1zM863 510h1v1h-1zM863 511h1v1h-1zM864 512h1v1h-1zM864 513h1v1h-1zM864 514h1v1h-1z"/>
<path fill="#fff" d="M181 43h1v680h-1zM182 723h682v1h-682zM863 43h1v680h-1zM177 43h687v1h-687zM177 714h4v1h-4zM177 704h4v1h-4zM177 695h4v1h-4zM177 686h4v1h-4zM177 676h4v1h-4zM177 667h4v1h-4zM177 658h4v1h-4zM177 648h4v1h-4zM177 639h4v1h-4zM172 630h9v1h-9zM177 620h4v1h-4zM177 611h4v1h-4zM177 602h4v1h-4zM177 592h4v1h-4zM177 583h4v1h-4zM177 574h4v1h-4zM177 564h4v1h-4zM177 555h4v1h-4zM177 546h4v1h-4zM172 536h9v1h-9zM177 527h4v1h-4zM177 518h4v1h-4zM177 509h4v1h-4zM177 499h4v1h-4zM177 490h4v1h-4zM177 481h4v1h-4zM177 471h4v1h-4zM177 462h4v1h-4zM177 453h4v1h-4zM172 443h9v1h-9zM177 434h4v1h-4zM177 425h4v1h-4zM177 415h4v1h-4zM177 406h4v1h-4zM177 397h4v1h-4zM177 387h4v1h-4zM177 378h4v1h-4zM177 369h4v1h-4zM177 359h4v1h-4zM172 350h9v1h-9zM177 341h4v1h-4zM177 331h4v1h-4zM177 322h4v1h-4zM177 313h4v1h-4zM177 303h4v1h-4zM177 294h4v1h-4zM177 285h4v1h-4zM177 276h4v1h-4zM177 266h4v1h-4zM172 257h9v1h-9zM177 248h4v1h-4zM177 238h4v1h-4zM177 229h4v1h-4zM177 220h4v1h-4zM177 210h4v1h-4zM177 201h4v1h-4zM177 192h4v1h-4zM177 182h4v1h-4zM177 173h4v1h-4zM172 164h9v1h-9zM177 154h4v1h-4zM177 145h4v1h-4zM177 136h4v1h-4zM177 126h4v1h-4zM177 117h4v1h-4zM177 108h4v1h-4zM177 98h4v1h-4zM177 89h4v1h-4zM177 80h4v1h-4zM172 70h9v1h-9zM177 61h4v1h-4zM177 52h4v1h-4zM193 724h1v4h-1zM204 724h1v4h-1zM216 724h1v4h-1zM227 724h1v4h-1zM238 724h1v4h-1zM250 724h1v4h-1zM261 724h1v4h-1zM273 724h1v4h-1zM284 724h1v4h-1zM295 724h1v9h-1zM307 724h1v4h-1zM318 724h1v4h-1zM329 724h1v4h-1zM341 724h1v4h-1zM352 724h1v4h-1zM364 724h1v4h-1zM375 724h1v4h-1zM386 724h1v4h-1zM398 724h1v4h-1zM409 724h1v9h-1zM420 724h1v4h-1zM432 724h1v4h-1zM443 724h1v4h-1zM455 724h1v4h-1zM466 724h1v4h-1zM477 724h1v4h-1zM489 724h1v4h-1zM500 724h1v4h-1zM511 724h1v4h-1zM523 724h1v9h-1zM534 724h1v4h-1zM546 724h1v4h-1zM557 724h1v4h-1zM568 724h1v4h-1zM580 724h1v4h-1zM591 724h1v4h-1zM602 724h1v4h-1zM614 724h1v4h-1zM625 724h1v4h-1zM637 724h1v9h-1zM648 724h1v4h-1zM659 724h1v4h-1zM671 724h1v4h-1zM682 724h1v4h-1zM693 724h1v4h-1zM705 724h1v4h-1zM716 724h1v4h-1zM728 724h1v4h-1zM739 724h1v4h-1zM750 724h1v9h-1zM762 724h1v4h-1zM773 724h1v4h-1zM784 724h1v4h-1zM796 724h1v4h-1zM807 724h1v4h-1zM819 724h1v4h-1zM830 724h1v4h-1zM841 724h1v4h-1zM853 724h1v4h-1z"/>
</g>
<g class="m"><text x="167" y="76" text-anchor="end" textLength="30.3" lengthAdjust="spacing">5.0</text><text x="167" y="169" text-anchor="end" textLength="30.3" lengthAdjust="spacing">4.0</text><text x="167" y="262" text-anchor="end" textLength="30.3" lengthAdjust="spacing">3.0</text><text x="167" y="356" text-anchor="end" textLength="30.3" lengthAdjust="spacing">2.0</text><text x="167" y="449" text-anchor="end" textLength="30.3" lengthAdjust="spacing">1.0</text><text x="167" y="542" text-anchor="end" textLength="30.3" lengthAdjust="spacing">0.0</text><text x="167" y="635" text-anchor="end" textLength="40.4" lengthAdjust="spacing">-1.0</text><text x="295.5" y="748" text-anchor="middle" textLength="10.1" lengthAdjust="spacing">2</text><text x="410.0" y="748" text-anchor="middle" textLength="10.1" lengthAdjust="spacing">4</text><text x="522.1" y="748" text-anchor="middle" textLength="10.1" lengthAdjust="spacing">6</text><text x="636.0" y="748" text-anchor="middle" textLength="10.1" lengthAdjust="spacing">8</text><text x="751.5" y="748" text-anchor="middle" textLength="20.2" lengthAdjust="spacing">10</text>
<text x="438" y="766" style="font-size:14px" textLength="170" lengthAdjust="spacingAndGlyphs">Distance (x10^-3)</text>
<text transform="translate(110 451) rotate(-90)" style="font-size:14px" textLength="137" lengthAdjust="spacingAndGlyphs">Value (x10^-3)</text>
</g>
<path fill="#000" d="M161 69h3v2h-3zM161 162h3v2h-3zM161 255h3v2h-3zM161 349h3v2h-3zM161 442h3v2h-3zM161 535h3v2h-3zM161 628h3v2h-3zM141 535h2v2h-2zM756 741h2v2h-2zM562 760h2v2h-2zM104 357h2v2h-2z"/>
<g class="t"><text x="319.00" y="803" textLength="81.00" lengthAdjust="spacingAndGlyphs">Density,</text><text x="406.00" y="803" textLength="136.00" lengthAdjust="spacingAndGlyphs">Temperature</text><text x="547.60" y="803" textLength="43.40" lengthAdjust="spacingAndGlyphs">and</text><text x="597.00" y="803" textLength="81.50" lengthAdjust="spacingAndGlyphs">Velocity</text></g>
</svg>
</body></html>
